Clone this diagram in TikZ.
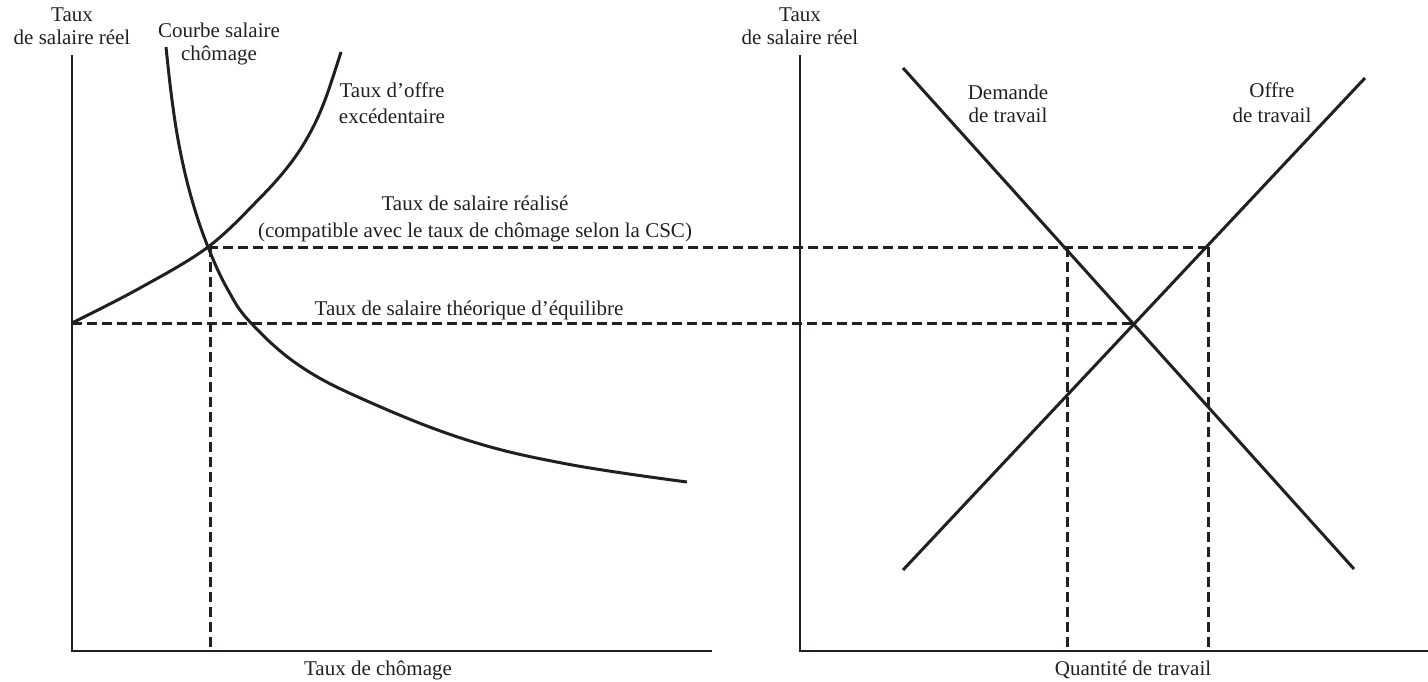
\documentclass[tikz,border=0pt]{standalone}
\usepackage{fontspec}
\setmainfont{Liberation Serif}
\definecolor{ink}{HTML}{231F20}
\tikzset{
  axis/.style={draw=ink, line width=1.5pt},
  curve/.style={draw=ink, line width=3pt, line join=round},
  guide/.style={draw=ink, line width=3pt, dash pattern=on 10pt off 5pt},
  lbl/.style={inner sep=0pt, anchor=base, text=ink, font=\fontsize{21}{24}\selectfont}
}
\begin{document}
\begin{tikzpicture}[x=1pt,y=-1pt]
\useasboundingbox (0,0) rectangle (1428,682);
% coordinates
\coordinate (LO) at (72,651);
\coordinate (LT) at (72,55);
\coordinate (LR) at (712,651);
\coordinate (RO) at (800,651);
\coordinate (RT) at (800,55);
\coordinate (RR) at (1428,651);
\coordinate (W0) at (72,323);
\coordinate (E1) at (208,247);
\coordinate (T1) at (210,247);
\coordinate (B1) at (210,651);
\coordinate (D1) at (1067,247);
\coordinate (D1b) at (1067,651);
\coordinate (S1) at (1208,247);
\coordinate (S1b) at (1208,651);
\coordinate (X) at (1133,323);
\coordinate (Dtop) at (903,68);
\coordinate (Dbot) at (1354,569);
\coordinate (Sbot) at (903,570);
\coordinate (Stop) at (1365,78);
% axes
\draw[axis] (LT) -- (LO) -- (LR);
\draw[axis] (RT) -- (RO) -- (RR);
% dashed guides
\draw[guide] (E1) -- (S1);
\draw[guide] (W0) -- (X);
\draw[guide] (T1) -- (B1);
\draw[guide] (D1) -- (D1b);
\draw[guide] (S1) -- (S1b);
% left curves
\draw[curve] plot[smooth, tension=0.65] coordinates {(166,47) (172,100) (180,150) (192,200) (208,247) (228,290) (251,323) (300,366) (367,401) (467,440) (567,464) (687,482)};
\draw[curve] plot[smooth, tension=0.6] coordinates {(72,323) (140,288) (208,247) (260,198) (290,164) (310,133) (325,100) (341,52)};
% right lines
\draw[curve] (Dtop) -- (Dbot);
\draw[curve] (Sbot) -- (Stop);
% labels
\node[lbl] (ly1) at (72,22) {Taux};
\node[lbl] (ly2) at (72,45) {de salaire réel};
\node[lbl] (ry1) at (800,22) {Taux};
\node[lbl] (ry2) at (800,45) {de salaire réel};
\node[lbl] (csc1) at (219,38) {Courbe salaire};
\node[lbl] (csc2) at (219,61) {chômage};
\node[lbl] (of1) at (392,98) {Taux d’offre};
\node[lbl] (of2) at (392,124) {excédentaire};
\node[lbl] (dem1) at (1008,100) {Demande};
\node[lbl] (dem2) at (1008,123) {de travail};
\node[lbl] (off1) at (1272,98) {Offre};
\node[lbl] (off2) at (1272,123) {de travail};
\node[lbl] (re1) at (475,211) {Taux de salaire réalisé};
\node[lbl] (re2) at (475,237) {(compatible avec le taux de chômage selon la CSC)};
\node[lbl] (th) at (469,315) {Taux de salaire théorique d’équilibre};
\node[lbl] (xl) at (378,675) {Taux de chômage};
\node[lbl] (xr) at (1133,675) {Quantité de travail};
\end{tikzpicture}
\end{document}
